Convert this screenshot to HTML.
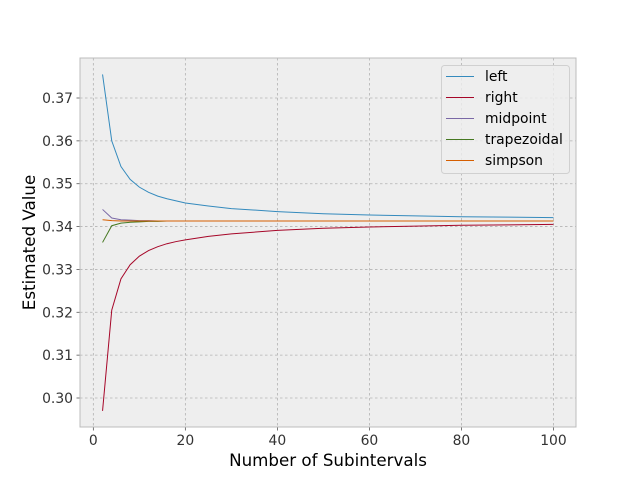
<!DOCTYPE html>
<html><head><meta charset="utf-8"><style>
body{margin:0;background:#fff;}
svg{display:block;font-family:"DejaVu Sans","Liberation Sans",sans-serif;}
</style></head><body>
<svg id="chart" width="640" height="480" xmlns="http://www.w3.org/2000/svg"></svg>
<script>
const nValues=[2,4,6,8,10,12,14,16,18,20,25,30,40,50,60,70,80,90,100];
const leftValues=[0.3755,0.3600,0.3540,0.3510,0.3492,0.3480,0.3471,0.3465,0.3460,0.3455,0.3448,0.3442,0.3435,0.3430,0.3427,0.3425,0.3423,0.3422,0.3421];
const rightValues=[0.2970,0.3205,0.3278,0.3311,0.3331,0.3344,0.3353,0.3360,0.3365,0.3369,0.3377,0.3383,0.3391,0.3396,0.3399,0.3401,0.3403,0.3404,0.3405];
const midpointValues=[0.3440,0.3420,0.3416,0.3415,0.3414,0.3414,0.3413,0.3413,0.3413,0.3413,0.3413,0.3413,0.3413,0.3413,0.3413,0.3413,0.3413,0.3413,0.3413];
const trapValues=[0.3363,0.3402,0.3408,0.3410,0.3411,0.3412,0.3412,0.3413,0.3413,0.3413,0.3413,0.3413,0.3413,0.3413,0.3413,0.3413,0.3413,0.3413,0.3413];
const simpsonValues=[0.3416,0.3414,0.3413,0.3413,0.3413,0.3413,0.3413,0.3413,0.3413,0.3413,0.3413,0.3413,0.3413,0.3413,0.3413,0.3413,0.3413,0.3413,0.3413];
const seriesNames=["left","right","midpoint","trapezoidal","simpson"];
const xTicks=[0,20,40,60,80,100];
const yTicks=[0.30,0.31,0.32,0.33,0.34,0.35,0.36,0.37];

const svg=document.getElementById('chart');
const NS='http://www.w3.org/2000/svg';
const L=80,R=576,T=58,B=427;
const xMin=-2.9,xMax=104.9;
function xs(v){return L+(v-xMin)/(xMax-xMin)*(R-L);}
function ys(v){return 398-(v-0.30)*4285.7;}
function mk(tag,attrs,parent){const e=document.createElementNS(NS,tag);for(const k in attrs)e.setAttribute(k,attrs[k]);(parent||svg).appendChild(e);return e;}

const bg=mk('rect',{x:L,y:T,width:R-L,height:B-T,fill:'#eeeeee'});



const grid=mk('g',{});


xTicks.forEach(t=>{const x=xs(t);
  mk('line',{x1:x,x2:x,y1:T,y2:B,stroke:'#b2b2b2','stroke-width':0.8,'stroke-dasharray':'2.5,2.5'},grid);
  mk('line',{x1:x,x2:x,y1:B,y2:B+3.5,stroke:'#555','stroke-width':0.8},grid);
  const tx=mk('text',{x:x,y:B+18,'text-anchor':'middle','font-size':'13.9',fill:'#333'});
  tx.textContent=t;
  
  
});
yTicks.forEach(t=>{const y=ys(t);
  mk('line',{x1:L,x2:R,y1:y,y2:y,stroke:'#b2b2b2','stroke-width':0.8,'stroke-dasharray':'2.5,2.5'},grid);
  mk('line',{x1:L-3.5,x2:L,y1:y,y2:y,stroke:'#555','stroke-width':0.8},grid);
  const tx=mk('text',{x:L-7,y:y+5,'text-anchor':'end','font-size':'13.9',fill:'#333'});
  tx.textContent=t.toFixed(2);
  
  
});

const colors=['#348ABD','#A60628','#7A68A6','#467821','#D55E00'];
const allSeries=[leftValues,rightValues,midpointValues,trapValues,simpsonValues];
allSeries.forEach((vals,i)=>{
  const d=vals.map((v,j)=>(j?'L':'M')+xs(nValues[j]).toFixed(2)+','+ys(v).toFixed(2)).join(' ');
  const p=mk('path',{d:d,fill:'none',stroke:colors[i],'stroke-width':1});
  
  
});

const frame=mk('rect',{x:L,y:T,width:R-L,height:B-T,fill:'none',stroke:'#bcbcbc','stroke-width':1});



const xl=mk('text',{x:(L+R)/2,y:466,'text-anchor':'middle','font-size':'16.7',fill:'#000'});
xl.textContent='Number of Subintervals';


const yl=mk('text',{x:0,y:0,'text-anchor':'middle','font-size':'16.7',fill:'#000',transform:'translate(35,'+((T+B)/2)+') rotate(-90)'});
yl.textContent='Estimated Value';



const lg=mk('g',{});


mk('rect',{x:441.5,y:65.5,width:128,height:108,rx:3,fill:'#eeeeee','fill-opacity':0.8,stroke:'#d0d0d0','stroke-width':1},lg);
seriesNames.forEach((n,i)=>{const y=76.5+i*21;
  const ent=mk('g',{},lg);
  
  
  mk('line',{x1:446,x2:474,y1:y,y2:y,stroke:colors[i],'stroke-width':1},ent);
  const t=mk('text',{x:485,y:y+4.5,'font-size':'13.9',fill:'#000'},ent);
  t.textContent=n;
});
</script>
</body></html>
